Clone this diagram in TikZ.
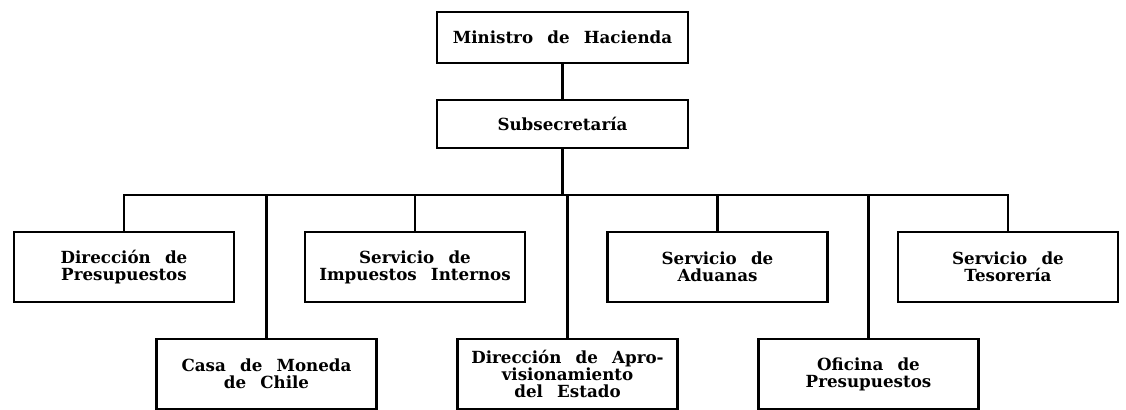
\documentclass[tikz,border=0pt]{standalone}
\usepackage{fontspec}
\setmainfont{DejaVu Serif}
\usepackage{tikz}

\newcommand{\letracaja}{\fontsize{9.5}{9.6}\selectfont\bfseries\spaceskip=0.85em\relax}

\tikzset{
  caja/.style={draw, line width=1.3pt, minimum width=4.4cm, minimum height=1.4cm,
    align=center, inner sep=2pt, font=\letracaja},
  linea/.style={line width=1.3pt}
}

\begin{document}
\begin{tikzpicture}
        \useasboundingbox (0,0) rectangle (22.52,8.2);

        % Jefatura
        \node[caja, minimum width=5.02cm, minimum height=1.02cm] (min) at (11.25,7.45) {Ministro de Hacienda};
        \node[caja, minimum width=5.02cm, minimum height=0.96cm] (sub) at (11.25,5.72) {Subsecretaría};

        % Primera fila
        \node[caja] (dp) at (2.48,2.86) {Dirección de\\Presupuestos};
        \node[caja] (sii) at (8.3,2.86) {Servicio de\\Impuestos Internos};
        \node[caja] (sa) at (14.35,2.86) {Servicio de\\Aduanas};
        \node[caja] (st) at (20.16,2.86) {Servicio de\\Tesorería};

        % Segunda fila
        \node[caja] (cmc) at (5.33,0.72) {Casa de Moneda\\de Chile};
        \node[caja] (dae) at (11.35,0.72) {Dirección de Apro-\\visionamiento\\del Estado};
        \node[caja] (op) at (17.37,0.72) {Oficina de\\Presupuestos};

        % Linea horizontal
        \coordinate (barra) at (11.25,4.3);

        % Conexiones
        \draw[linea] (min) -- (sub);
        \draw[linea] (sub.south) -- (barra);
        \draw[linea] (dp.north) |- (barra) -| (st.north);
        \draw[linea] (sii.north) -- (sii.north |- barra);
        \draw[linea] (sa.north) -- (sa.north |- barra);
        \draw[linea] (cmc.north) -- (cmc.north |- barra);
        \draw[linea] (dae.north) -- (dae.north |- barra);
        \draw[linea] (op.north) -- (op.north |- barra);
\end{tikzpicture}
\end{document}
